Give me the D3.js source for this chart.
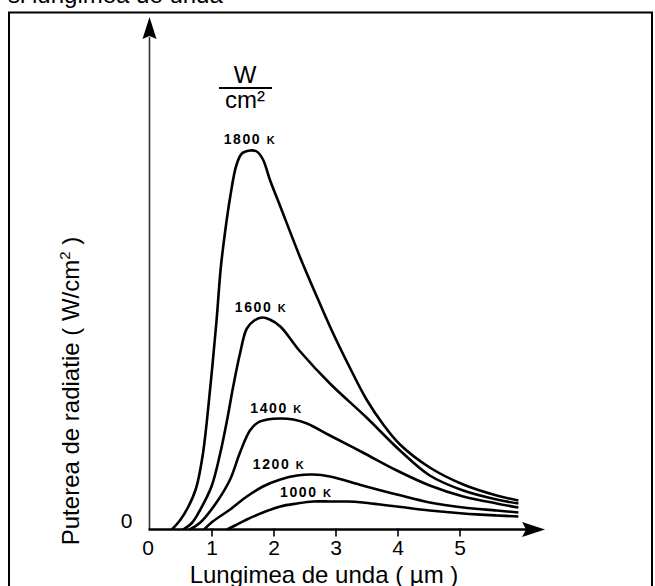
<!DOCTYPE html>
<html>
<head>
<meta charset="utf-8">
<script src="https://cdn.jsdelivr.net/npm/d3@7"></script>
<style>
body { margin: 0; background: #fff; }
text { font-family: Arial, "Liberation Sans", sans-serif; fill: #000; }
</style>
</head>
<body>
<script>
// wavelength in um, radiated power in arbitrary units
var x1800 = [0.36,0.49,0.62,0.75,0.86,0.98,1.08,1.15,1.22,1.30,1.40,1.49,1.62,1.73,1.83,1.94,2.11,2.43,2.67,2.94,3.23,3.50,3.77,4.04,4.52,5.06,5.60,5.95];
var y1800 = [0,0.9,2.2,4.1,7.5,14.2,20.8,26.2,29.8,33.2,36.4,37.6,37.9,37.8,37.0,35.0,32.3,27.2,23.7,19.9,16.2,13.0,10.5,8.5,6.2,4.5,3.4,2.9];

var x1600 = [0.54,0.69,0.82,1.00,1.14,1.25,1.35,1.46,1.57,1.69,1.82,1.94,2.11,2.43,2.91,3.50,4.04,4.52,5.06,5.60,5.95];
var y1600 = [0,0.7,2.0,4.3,7.6,10.9,14.3,17.6,20.1,20.9,21.2,21.0,20.3,17.8,14.6,11.2,7.9,5.4,3.9,3.0,2.6];

var x1400 = [0.65,0.82,1.08,1.30,1.46,1.62,1.75,1.90,2.11,2.32,2.54,2.91,3.44,3.99,4.52,5.06,5.60,5.95];
var y1400 = [0,0.7,2.7,5.0,7.7,9.9,10.7,11.0,11.1,11.0,10.6,9.4,7.7,5.9,4.4,3.3,2.6,2.2];

var x1200 = [0.88,1.02,1.30,1.57,1.83,2.11,2.38,2.64,2.91,3.44,3.99,4.52,5.06,5.60,5.95];
var y1200 = [0,0.8,2.0,3.3,4.3,5.0,5.4,5.5,5.3,4.4,3.5,2.7,2.2,1.9,1.7];

var x1000 = [1.25,1.38,1.57,1.83,2.11,2.38,2.64,2.91,3.19,3.44,3.72,3.99,4.52,5.06,5.60,5.95];
var y1000 = [0,0.4,1.0,1.7,2.3,2.6,2.8,2.8,2.8,2.7,2.5,2.3,1.9,1.6,1.4,1.3];

var temps = ["1800", "1600", "1400", "1200", "1000"];
var xTicks = [0, 1, 2, 3, 4, 5];

var width = 655, height = 586;

var svg = d3.select("body").append("svg")
    .attr("width", width)
    .attr("height", height);

// frame (bottom edge runs off the picture)
svg.append("path")
    .attr("d", "M9,600 L9,12.5 L652,12.5 L652,600")
    .attr("fill", "none")
    .attr("stroke", "#000")
    .attr("stroke-width", 2);

// title, mostly cut off at the top
svg.append("text")
    .attr("x", 8).attr("y", 3)
    .attr("font-size", "24px")
    .text("si lungimea de unda");

var x = d3.scaleLinear().domain([0, 6]).range([149.5, 521.5]);
var y = d3.scaleLinear().domain([0, 50]).range([529.5, 29.5]);

var curves = [
  { t: temps[0], xs: x1800, ys: y1800 },
  { t: temps[1], xs: x1600, ys: y1600 },
  { t: temps[2], xs: x1400, ys: y1400 },
  { t: temps[3], xs: x1200, ys: y1200 },
  { t: temps[4], xs: x1000, ys: y1000 }
];

var line = d3.line()
    .x(d => x(d[0]))
    .y(d => y(d[1]))
    .curve(d3.curveCatmullRom.alpha(0.5));

svg.selectAll(".curve")
   .data(curves)
   .enter()
   .append("path")
   .attr("class", "curve")
   .attr("d", d => line(d.xs.map((v, i) => [v, d.ys[i]])))
   .attr("fill", "none")
   .attr("stroke", "#000")
   .attr("stroke-width", 2.6);

// y axis with arrow
var yTop = 51.25;
svg.append("line")
   .attr("x1", x(0)).attr("x2", x(0))
   .attr("y1", y(0)).attr("y2", y(yTop) + 20)
   .attr("stroke", "#333")
   .attr("stroke-width", 1.6);
svg.append("path")
   .attr("d", "M" + x(0) + "," + y(yTop) + " L" + (x(0) - 7) + "," + (y(yTop) + 22) +
              " L" + x(0) + "," + (y(yTop) + 19) + " L" + (x(0) + 7) + "," + (y(yTop) + 22) + "Z")
   .attr("fill", "#000");

// x axis with arrow
var xEnd = 6.38;
svg.append("line")
   .attr("x1", x(0) - 1).attr("x2", x(xEnd) - 18)
   .attr("y1", y(0)).attr("y2", y(0))
   .attr("stroke", "#000")
   .attr("stroke-width", 2.4);
svg.append("path")
   .attr("d", "M" + x(xEnd) + "," + y(0) + " L" + (x(xEnd) - 23) + "," + (y(0) - 7.5) +
              " L" + (x(xEnd) - 19) + "," + y(0) + " L" + (x(xEnd) - 23) + "," + (y(0) + 7.5) + "Z")
   .attr("fill", "#000");

var xAxis = d3.axisBottom(x)
    .tickValues(xTicks)
    .tickSize(8)
    .tickPadding(4)
    .tickFormat(d3.format("d"));

var gx = svg.append("g")
   .attr("transform", "translate(0," + (y(0) - 1) + ")")
   .call(xAxis);
gx.select(".domain").remove();
gx.selectAll(".tick line").attr("stroke", "#000").attr("stroke-width", 1.6);
gx.selectAll(".tick").filter(d => d === 0).select("line").remove();
gx.selectAll(".tick text")
  .attr("font-family", "Arial, 'Liberation Sans', sans-serif")
  .attr("font-size", "21px")
  .attr("fill", "#000");
gx.selectAll(".tick").filter(d => d === 0).select("text").attr("x", -2);

// zero on the power axis
svg.append("text")
   .attr("x", x(0) - 23).attr("y", y(0) - 2)
   .attr("text-anchor", "middle")
   .attr("font-size", "21px")
   .text("0");

// axis titles
svg.append("text")
   .attr("x", 324).attr("y", 583)
   .attr("text-anchor", "middle")
   .attr("font-size", "24px")
   .text("Lungimea de unda ( µm )");

var yl = svg.append("text")
   .attr("transform", "translate(79,391) rotate(-90)")
   .attr("text-anchor", "middle")
   .attr("font-size", "24px");
yl.append("tspan").text("Puterea de radiatie ( W/cm");
yl.append("tspan").attr("dy", -9).attr("font-size", "15px").text("2");
yl.append("tspan").attr("dy", 9).text(" )");

// unit fraction
svg.append("text")
   .attr("x", 245).attr("y", 83)
   .attr("text-anchor", "middle")
   .attr("font-size", "24px")
   .text("W");
svg.append("line")
   .attr("x1", 219).attr("x2", 272)
   .attr("y1", 88).attr("y2", 88)
   .attr("stroke", "#000")
   .attr("stroke-width", 2);
svg.append("text")
   .attr("x", 245).attr("y", 108)
   .attr("text-anchor", "middle")
   .attr("font-size", "24px")
   .text("cm²");

// temperature labels, placed at each curve's peak
var labelPos = [
  { t: temps[0], lx: 1.62, ly: 38.55 },
  { t: temps[1], lx: 1.80, ly: 21.75 },
  { t: temps[2], lx: 2.05, ly: 11.65 },
  { t: temps[3], lx: 2.09, ly: 6.05 },
  { t: temps[4], lx: 2.53, ly: 3.25 }
];
var lbl = svg.selectAll(".tlabel")
   .data(labelPos)
   .enter()
   .append("text")
   .attr("class", "tlabel")
   .attr("x", d => x(d.lx))
   .attr("y", d => y(d.ly))
   .attr("text-anchor", "middle")
   .attr("font-size", "14px")
   .attr("font-weight", "bold")
   .attr("letter-spacing", "1.6px");
lbl.append("tspan").text(d => d.t + " ");
lbl.append("tspan").attr("font-size", "11px").text("K");
</script>
</body>
</html>
